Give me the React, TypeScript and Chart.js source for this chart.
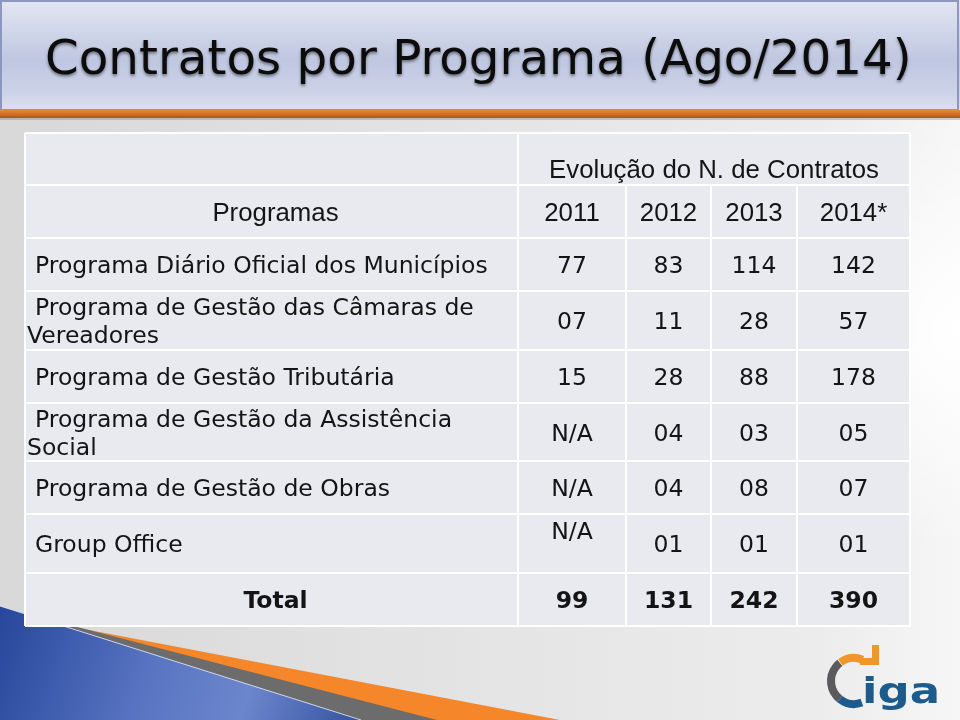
import React, { useEffect, useRef } from "react";
import { Chart, registerables } from "chart.js";

Chart.register(...registerables);

// ---------- data ----------
const slideTitle = "Contratos por Programa (Ago/2014)";
const groupHeader = "Evolução do N. de Contratos";
const programsHeader = "Programas";
const years = ["2011", "2012", "2013", "2014*"];
const programs = [
  ["Programa Diário Oficial dos Municípios"],
  ["Programa de Gestão das Câmaras de", "Vereadores"],
  ["Programa de Gestão Tributária"],
  ["Programa de Gestão da Assistência", "Social"],
  ["Programa de Gestão de Obras"],
  ["Group Office"],
];
const contracts2011 = [77, 7, 15, null, null, null];
const contracts2012 = [83, 11, 28, 4, 4, 1];
const contracts2013 = [114, 28, 88, 3, 8, 1];
const contracts2014 = [142, 57, 178, 5, 7, 1];
const totalLabel = "Total";
const totals = [99, 131, 242, 390];
const logoText = "iga";

// ---------- layout (not data) ----------
const COL_EDGES = [0, 493, 601, 686, 772, 885];
const ROW_EDGES = [0, 52, 105, 158, 217, 270, 328, 381, 440, 493];
const NA_TOP_ROWS = [5];
const BODY_FONT = "'DejaVu Sans', Verdana, sans-serif";
const HEAD_FONT = "'Liberation Sans', Arial, sans-serif";

const fmt = (v: number | null) => (v === null ? "N/A" : v < 10 ? String(v).padStart(2, "0") : String(v));
const colCenter = (c: number) => (COL_EDGES[c] + COL_EDGES[c + 1]) / 2;
const rowCenter = (r: number) => (ROW_EDGES[r] + ROW_EDGES[r + 1]) / 2;
const deg = (d: number) => (d * Math.PI) / 180;

function fitSize(ctx: CanvasRenderingContext2D, text: string, weight: string, family: string, width: number) {
  ctx.font = `${weight} 100px ${family}`;
  return (100 * width) / ctx.measureText(text).width;
}

function drawSlide(chart: any) {
  const ctx: CanvasRenderingContext2D = chart.ctx;
  const W = chart.width;
  const H = chart.height;
  ctx.save();
  // background
  const bg = ctx.createLinearGradient(0, 0, W, 0);
  bg.addColorStop(0, "#d8d8d8");
  bg.addColorStop(0.5, "#e4e4e4");
  bg.addColorStop(0.85, "#ececec");
  bg.addColorStop(1, "#f6f6f6");
  ctx.fillStyle = bg;
  ctx.fillRect(0, 0, W, H);
  const glow = ctx.createRadialGradient(960, 330, 10, 960, 330, 220);
  glow.addColorStop(0, "rgba(255,255,255,0.95)");
  glow.addColorStop(1, "rgba(255,255,255,0)");
  ctx.fillStyle = glow;
  ctx.fillRect(600, 100, 360, 500);

  // title bar
  const tb = ctx.createLinearGradient(0, 0, 0, 110);
  tb.addColorStop(0, "#e3e6f1");
  tb.addColorStop(0.2, "#d6dbec");
  tb.addColorStop(0.55, "#bfc7e1");
  tb.addColorStop(0.85, "#cdd3e8");
  tb.addColorStop(1, "#dde1ee");
  ctx.fillStyle = tb;
  ctx.fillRect(0, 0, W, 110);
  ctx.strokeStyle = "#8d96bb";
  ctx.lineWidth = 2;
  ctx.strokeRect(1, 1, W - 3, 109);
  const ob = ctx.createLinearGradient(0, 110, 0, 118);
  ob.addColorStop(0, "#e8893a");
  ob.addColorStop(0.6, "#c96d22");
  ob.addColorStop(1, "#9c5a25");
  ctx.fillStyle = ob;
  ctx.fillRect(0, 110, W, 8);
  ctx.fillStyle = "rgba(120,120,120,0.35)";
  ctx.fillRect(0, 118, W, 2);

  // title text
  const ts = fitSize(ctx, slideTitle, "normal", BODY_FONT, 867);
  ctx.font = `normal ${ts}px ${BODY_FONT}`;
  ctx.textAlign = "left";
  ctx.textBaseline = "alphabetic";
  ctx.shadowColor = "rgba(0,0,0,0.45)";
  ctx.shadowBlur = 3;
  ctx.shadowOffsetY = 2;
  ctx.fillStyle = "#0c0c0c";
  ctx.fillText(slideTitle, 45, 74);
  ctx.shadowColor = "transparent";

  // swoosh
  ctx.fillStyle = "#f5862a";
  ctx.beginPath();
  ctx.moveTo(0, 613);
  ctx.lineTo(560, 720);
  ctx.lineTo(0, 720);
  ctx.closePath();
  ctx.fill();
  ctx.fillStyle = "#6c6c6c";
  ctx.beginPath();
  ctx.moveTo(0, 607);
  ctx.lineTo(437, 720);
  ctx.lineTo(0, 720);
  ctx.closePath();
  ctx.fill();
  const bl = ctx.createLinearGradient(0, 600, 360, 720);
  bl.addColorStop(0, "#27469a");
  bl.addColorStop(0.45, "#5a76c3");
  bl.addColorStop(0.7, "#6c86cd");
  bl.addColorStop(1, "#34529f");
  ctx.fillStyle = bl;
  ctx.beginPath();
  ctx.moveTo(0, 606);
  ctx.lineTo(361, 720);
  ctx.lineTo(0, 720);
  ctx.closePath();
  ctx.fill();
  ctx.strokeStyle = "rgba(235,240,255,0.8)";
  ctx.lineWidth = 1;
  ctx.beginPath();
  ctx.moveTo(0, 606);
  ctx.lineTo(361, 720);
  ctx.stroke();

  // logo
  const cx = 854, cy = 681, r = 23;
  ctx.lineWidth = 8;
  ctx.lineCap = "butt";
  ctx.strokeStyle = "#5b5b5d";
  ctx.beginPath();
  ctx.arc(cx, cy, r, deg(128), deg(232));
  ctx.stroke();
  ctx.strokeStyle = "#f0962a";
  ctx.beginPath();
  ctx.arc(cx, cy, r, deg(234), deg(292));
  ctx.stroke();
  ctx.fillStyle = "#f0962a";
  ctx.beginPath();
  ctx.moveTo(872, 645);
  ctx.lineTo(879, 645);
  ctx.lineTo(879, 665);
  ctx.lineTo(860, 665);
  ctx.lineTo(860, 658);
  ctx.lineTo(872, 658);
  ctx.closePath();
  ctx.fill();
  ctx.strokeStyle = "#1d5b8c";
  ctx.beginPath();
  ctx.arc(cx, cy, r, deg(70), deg(128));
  ctx.stroke();
  ctx.fillStyle = "#1d5b8c";
  ctx.font = `bold 36px ${BODY_FONT}`;
  const lw = ctx.measureText(logoText).width;
  ctx.save();
  ctx.translate(862, 703);
  ctx.scale(78 / lw, 1);
  ctx.fillText(logoText, 0, 0);
  ctx.restore();
  ctx.restore();
}

function drawTable(chart: any) {
  const ctx: CanvasRenderingContext2D = chart.ctx;
  const xs = chart.scales.x;
  const ys = chart.scales.y;
  const X = (v: number) => xs.getPixelForValue(v);
  const Y = (v: number) => ys.getPixelForValue(v);
  const left = X(0), right = X(COL_EDGES[COL_EDGES.length - 1]);
  const top = Y(0), bottom = Y(ROW_EDGES[ROW_EDGES.length - 1]);
  ctx.save();
  ctx.fillStyle = "#e9eaf0";
  ctx.fillRect(left, top, right - left, bottom - top);
  ctx.strokeStyle = "#ffffff";
  ctx.lineWidth = 2;
  ROW_EDGES.forEach((e) => {
    ctx.beginPath();
    ctx.moveTo(left, Y(e));
    ctx.lineTo(right, Y(e));
    ctx.stroke();
  });
  COL_EDGES.forEach((e, i) => {
    const startRow = i >= 2 && i < COL_EDGES.length - 1 ? ROW_EDGES[1] : ROW_EDGES[0];
    ctx.beginPath();
    ctx.moveTo(X(e), Y(startRow));
    ctx.lineTo(X(e), bottom);
    ctx.stroke();
  });

  const bodySize = fitSize(ctx, programs[0][0], "normal", BODY_FONT, 453);
  const headSize = fitSize(ctx, groupHeader, "normal", HEAD_FONT, 330);
  const bodyCap = bodySize * 0.73;
  const headCap = headSize * 0.716;
  ctx.fillStyle = "#141414";
  ctx.textBaseline = "alphabetic";

  ctx.font = `normal ${headSize}px ${HEAD_FONT}`;
  ctx.textAlign = "center";
  ctx.fillText(groupHeader, (X(COL_EDGES[1]) + X(COL_EDGES[5])) / 2, Y(rowCenter(0)) + 10 + headCap / 2);
  ctx.fillText(programsHeader, X(colCenter(0)) + 4, Y(rowCenter(1)) + headCap / 2);
  years.forEach((yr, i) => {
    ctx.fillText(yr, X(colCenter(i + 1)), Y(rowCenter(1)) + headCap / 2);
  });

  ctx.font = `normal ${bodySize}px ${BODY_FONT}`;
  ctx.textAlign = "left";
  const lineGap = 28;
  programs.forEach((lines, r) => {
    const cy = Y(rowCenter(r + 2));
    const first = cy - ((lines.length - 1) * lineGap) / 2 + bodyCap / 2;
    lines.forEach((ln, k) => {
      ctx.fillText(ln, left + (k === 0 ? 10 : 2), first + k * lineGap);
    });
  });

  ctx.textAlign = "center";
  chart.data.datasets.forEach((ds: any, di: number) => {
    const meta = chart.getDatasetMeta(di);
    const bold = ds.isTotal;
    ctx.font = `${bold ? "bold" : "normal"} ${bodySize}px ${BODY_FONT}`;
    meta.data.forEach((el: any, j: number) => {
      const raw = ds.data[j];
      let y = el.y + bodyCap / 2;
      if (raw.v === null && NA_TOP_ROWS.includes(raw.row)) y -= 13.5;
      ctx.fillText(fmt(raw.v), el.x, y);
    });
  });

  ctx.font = `bold ${bodySize}px ${BODY_FONT}`;
  ctx.fillText(totalLabel, X(colCenter(0)) + 4, Y(rowCenter(8)) + bodyCap / 2);
  ctx.restore();
}

export default function App() {
  const ref = useRef<HTMLCanvasElement | null>(null);
  useEffect(() => {
    const yearSeries = [contracts2011, contracts2012, contracts2013, contracts2014];
    const datasets: any[] = yearSeries.map((vals, c) => ({
      label: years[c],
      data: vals.map((v, r) => ({ x: colCenter(c + 1), y: rowCenter(r + 2), v, row: r })),
      pointRadius: 0,
      showLine: false,
    }));
    datasets.push({
      label: totalLabel,
      isTotal: true,
      data: totals.map((v, c) => ({ x: colCenter(c + 1), y: rowCenter(8), v, row: 8 })),
      pointRadius: 0,
      showLine: false,
    });
    const slidePlugin = {
      id: "slide",
      beforeDraw: (chart: any) => drawSlide(chart),
      afterDatasetsDraw: (chart: any) => drawTable(chart),
    };
    const chart = new Chart(ref.current as HTMLCanvasElement, {
      type: "scatter",
      data: { datasets },
      options: {
        animation: false,
        responsive: false,
        events: [],
        layout: { padding: { left: 25, top: 133, right: 50, bottom: 94 } },
        plugins: { legend: { display: false }, tooltip: { enabled: false } },
        scales: {
          x: { type: "linear", display: false, min: 0, max: COL_EDGES[COL_EDGES.length - 1] },
          y: { type: "linear", display: false, reverse: true, min: 0, max: ROW_EDGES[ROW_EDGES.length - 1] },
        },
      } as any,
      plugins: [slidePlugin],
    });
    return () => chart.destroy();
  }, []);
  return (
    <div style={{ position: "fixed", left: 0, top: 0, width: 960, height: 720 }}>
      <canvas ref={ref} width={960} height={720} style={{ display: "block", width: 960, height: 720 }} />
    </div>
  );
}
